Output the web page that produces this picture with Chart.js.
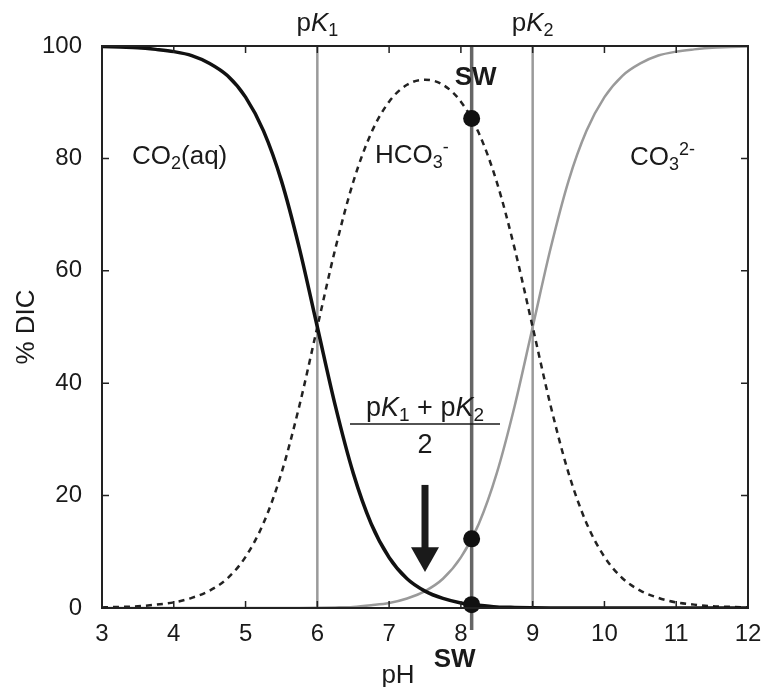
<!DOCTYPE html>
<html>
<head>
<meta charset="utf-8">
<script src="https://cdn.jsdelivr.net/npm/chart.js@4/dist/chart.umd.min.js"></script>
<style>
    html, body { margin: 0; padding: 0; background: #fff; }
    #wrap { width: 761px; height: 687px; }
</style>
</head>
<body>
<div id="wrap"><canvas id="grafico" width="761" height="687"></canvas></div>
<script>
// valores (pH de 0,25 em 0,25)
var phValores = [3, 3.25, 3.5, 3.75, 4, 4.25, 4.5, 4.75, 5, 5.25, 5.5, 5.75, 6, 6.25, 6.5, 6.75, 7, 7.25, 7.5,
    7.75, 8, 8.25, 8.5, 8.75, 9, 9.25, 9.5, 9.75, 10, 10.25, 10.5, 10.75, 11, 11.25, 11.5, 11.75, 12];
var co2Valores = [99.9, 99.8, 99.7, 99.4, 99.0, 98.3, 96.9, 94.7, 90.9, 84.9, 76.0, 64.0, 50.0, 36.0, 24.0, 15.0, 9.0, 5.2, 3.0,
    1.7, 0.9, 0.5, 0.2, 0.1, 0.05, 0.02, 0, 0, 0, 0, 0, 0, 0, 0, 0, 0, 0];
var hco3Valores = [0.1, 0.2, 0.3, 0.6, 1.0, 1.8, 3.1, 5.3, 9.1, 15.1, 24.0, 36.0, 50.0, 63.9, 75.8, 84.5, 90.1, 93.1, 94.0,
    93.1, 90.1, 84.5, 75.8, 63.9, 50.0, 36.0, 24.0, 15.1, 9.1, 5.3, 3.1, 1.8, 1.0, 0.6, 0.3, 0.2, 0.1];
var co3Valores = [0, 0, 0, 0, 0, 0, 0, 0, 0, 0, 0, 0.02, 0.05, 0.1, 0.2, 0.5, 0.9, 1.7, 3.0,
    5.2, 9.0, 15.0, 24.0, 36.0, 50.0, 64.0, 76.0, 84.9, 90.9, 94.7, 96.9, 98.3, 99.0, 99.4, 99.7, 99.8, 99.9];

var pK1 = 6.0;
var pK2 = 9.0;
var phSW = 8.15;
var pontosSW = [87.1, 12.3, 0.6];   // HCO3-, CO3 2-, CO2 no pH da água do mar
var xTicks = [3, 4, 5, 6, 7, 8, 9, 10, 11, 12];
var yTicks = [0, 20, 40, 60, 80, 100];
var setaPH = 7.5;

var FONTE = '"Liberation Sans", Arial, Helvetica, sans-serif';

function serie(ys) {
    return phValores.map(function (x, i) { return { x: x, y: ys[i] }; });
}

function linhaVertical(x, y0, y1) {
    return [{ x: x, y: y0 }, { x: x, y: y1 }];
}

// escreve um texto com partes (normal, itálico, subscrito...)
function textoRico(ctx, partes, x, y, alinhar) {
    var largura = 0;
    partes.forEach(function (p) {
        ctx.font = (p.estilo || '') + ' ' + p.tam + 'px ' + FONTE;
        p.w = ctx.measureText(p.t).width;
        largura += p.w;
    });
    var cx = alinhar === 'center' ? x - largura / 2 : x;
    ctx.textAlign = 'left';
    ctx.textBaseline = 'alphabetic';
    partes.forEach(function (p) {
        ctx.font = (p.estilo || '') + ' ' + p.tam + 'px ' + FONTE;
        ctx.fillText(p.t, cx, y + (p.dy || 0));
        cx += p.w;
    });
}

var pluginDesenho = {
    id: 'desenho',
    afterDatasetsDraw: function (chart) {
        var ctx = chart.ctx;
        var a = chart.chartArea;
        var xs = chart.scales.x;
        var ys = chart.scales.y;

        ctx.save();
        // moldura
        ctx.strokeStyle = '#222';
        ctx.lineWidth = 2;
        ctx.strokeRect(a.left, a.top, a.right - a.left, a.bottom - a.top);

        // marcas para dentro nos quatro lados
        ctx.lineWidth = 1.5;
        ctx.beginPath();
        xTicks.forEach(function (v) {
            var px = xs.getPixelForValue(v);
            ctx.moveTo(px, a.bottom); ctx.lineTo(px, a.bottom - 7);
            ctx.moveTo(px, a.top); ctx.lineTo(px, a.top + 7);
        });
        yTicks.forEach(function (v) {
            var py = ys.getPixelForValue(v);
            ctx.moveTo(a.left, py); ctx.lineTo(a.left + 7, py);
            ctx.moveTo(a.right, py); ctx.lineTo(a.right - 7, py);
        });
        ctx.stroke();

        ctx.fillStyle = '#1a1a1a';

        // pK1 e pK2 acima do gráfico
        textoRico(ctx, [
            { t: 'p', tam: 26 }, { t: 'K', tam: 26, estilo: 'italic' }, { t: '1', tam: 18, dy: 5 }
        ], xs.getPixelForValue(pK1), 31, 'center');
        textoRico(ctx, [
            { t: 'p', tam: 26 }, { t: 'K', tam: 26, estilo: 'italic' }, { t: '2', tam: 18, dy: 5 }
        ], xs.getPixelForValue(pK2), 31, 'center');

        // SW em cima e embaixo
        var pxSW = xs.getPixelForValue(phSW);
        textoRico(ctx, [{ t: 'SW', tam: 26, estilo: 'bold' }], pxSW + 4, 85, 'center');
        textoRico(ctx, [{ t: 'SW', tam: 26, estilo: 'bold' }], pxSW - 17, 667, 'center');

        // espécies
        textoRico(ctx, [
            { t: 'CO', tam: 26 }, { t: '2', tam: 18, dy: 5 }, { t: '(aq)', tam: 26 }
        ], 132, 164, 'left');
        textoRico(ctx, [
            { t: 'HCO', tam: 26 }, { t: '3', tam: 18, dy: 5 }, { t: '-', tam: 18, dy: -10 }
        ], 375, 163, 'left');
        textoRico(ctx, [
            { t: 'CO', tam: 26 }, { t: '3', tam: 18, dy: 5 }, { t: '2-', tam: 18, dy: -10 }
        ], 630, 165, 'left');

        // fração (pK1 + pK2) / 2
        var pxMeio = xs.getPixelForValue((pK1 + pK2) / 2);
        textoRico(ctx, [
            { t: 'p', tam: 27 }, { t: 'K', tam: 27, estilo: 'italic' }, { t: '1', tam: 19, dy: 5 },
            { t: ' + p', tam: 27 }, { t: 'K', tam: 27, estilo: 'italic' }, { t: '2', tam: 19, dy: 5 }
        ], pxMeio, 416, 'center');
        ctx.strokeStyle = '#1a1a1a';
        ctx.lineWidth = 1.5;
        ctx.beginPath();
        ctx.moveTo(pxMeio - 75, 424);
        ctx.lineTo(pxMeio + 75, 424);
        ctx.stroke();
        textoRico(ctx, [{ t: '2', tam: 27 }], pxMeio, 453, 'center');

        // seta
        var pxSeta = xs.getPixelForValue(setaPH);
        var yTopo = ys.getPixelForValue(21.9);
        var yBase = ys.getPixelForValue(10.8);
        var yPonta = ys.getPixelForValue(6.4);
        ctx.fillRect(pxSeta - 3.5, yTopo, 7, yBase - yTopo + 1);
        ctx.beginPath();
        ctx.moveTo(pxSeta - 14, yBase);
        ctx.lineTo(pxSeta + 14, yBase);
        ctx.lineTo(pxSeta, yPonta);
        ctx.closePath();
        ctx.fill();

        // títulos dos eixos
        textoRico(ctx, [{ t: 'pH', tam: 26 }], 398, 683, 'center');
        ctx.save();
        ctx.translate(34, (a.top + a.bottom) / 2);
        ctx.rotate(-Math.PI / 2);
        textoRico(ctx, [{ t: '% DIC', tam: 26 }], 0, 0, 'center');
        ctx.restore();

        ctx.restore();
    }
};

new Chart(document.getElementById('grafico').getContext('2d'), {
    type: 'line',
    data: {
        datasets: [
            {
                label: 'SW',
                data: pontosSW.map(function (v) { return { x: phSW, y: v }; }),
                showLine: false,
                pointRadius: 8.5,
                pointBackgroundColor: '#111',
                pointBorderWidth: 0,
                clip: false,
                order: 0
            },
            {
                label: 'CO2(aq)',
                data: serie(co2Valores),
                borderColor: '#111',
                borderWidth: 3.5,
                pointRadius: 0,
                cubicInterpolationMode: 'monotone',
                order: 1
            },
            {
                label: 'HCO3-',
                data: serie(hco3Valores),
                borderColor: '#222',
                borderWidth: 2.5,
                borderDash: [6, 5],
                pointRadius: 0,
                cubicInterpolationMode: 'monotone',
                order: 1
            },
            {
                label: 'CO3 2-',
                data: serie(co3Valores),
                borderColor: '#9a9a9a',
                borderWidth: 2.5,
                pointRadius: 0,
                cubicInterpolationMode: 'monotone',
                order: 1
            },
            {
                label: 'linha SW',
                data: linhaVertical(phSW, 100, -3.9),
                borderColor: '#666',
                borderWidth: 3.5,
                pointRadius: 0,
                clip: false,
                order: 2
            },
            {
                label: 'pK1',
                data: linhaVertical(pK1, 0, 100),
                borderColor: '#9a9a9a',
                borderWidth: 2.5,
                pointRadius: 0,
                order: 3
            },
            {
                label: 'pK2',
                data: linhaVertical(pK2, 0, 100),
                borderColor: '#9a9a9a',
                borderWidth: 2.5,
                pointRadius: 0,
                order: 3
            }
        ]
    },
    options: {
        responsive: false,
        animation: false,
        events: [],
        layout: { padding: { left: 0, right: 13, top: 46, bottom: 0 } },
        plugins: {
            legend: { display: false },
            tooltip: { enabled: false }
        },
        scales: {
            x: {
                type: 'linear',
                min: 3,
                max: 12,
                afterFit: function (scale) {
                    scale.height = 79;
                    scale.paddingLeft = 0;
                    scale.paddingRight = 0;
                },
                afterBuildTicks: function (scale) {
                    scale.ticks = xTicks.map(function (v) { return { value: v }; });
                },
                grid: { display: false },
                border: { display: false },
                ticks: {
                    padding: 4,
                    color: '#1a1a1a',
                    font: { family: FONTE, size: 24 },
                    maxRotation: 0
                }
            },
            y: {
                type: 'linear',
                min: 0,
                max: 100,
                afterFit: function (scale) {
                    scale.width = 102;
                    scale.paddingTop = 0;
                    scale.paddingBottom = 0;
                },
                afterBuildTicks: function (scale) {
                    scale.ticks = yTicks.map(function (v) { return { value: v }; });
                },
                grid: { display: false },
                border: { display: false },
                ticks: {
                    padding: 12,
                    color: '#1a1a1a',
                    font: { family: FONTE, size: 24 }
                }
            }
        }
    },
    plugins: [pluginDesenho]
});
</script>
</body>
</html>
